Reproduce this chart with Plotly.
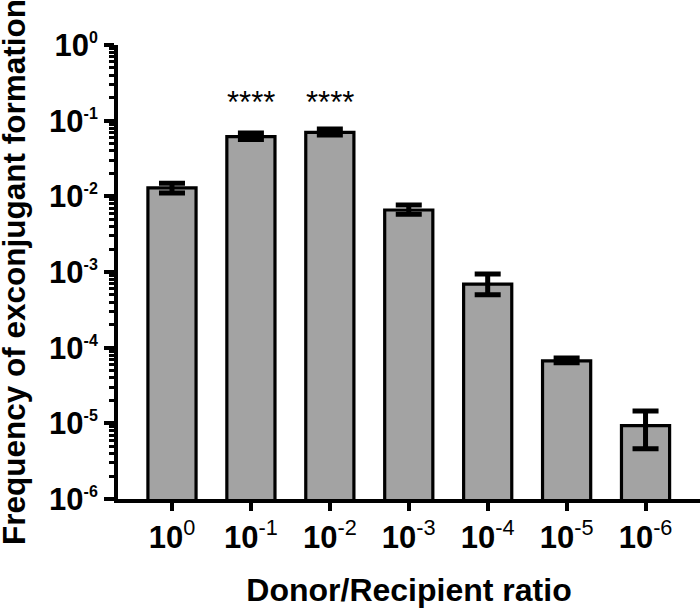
import plotly.graph_objects as go

# ---- data ----
ratio_exponents = [0, -1, -2, -3, -4, -5, -6]
ratio_labels = ["10<sup>0</sup>", "10<sup>-1</sup>", "10<sup>-2</sup>", "10<sup>-3</sup>",
                "10<sup>-4</sup>", "10<sup>-5</sup>", "10<sup>-6</sup>"]
freq_mean = [0.0129, 0.0615, 0.0700, 0.0066, 6.9e-4, 6.7e-5, 9.3e-6]
err_plus = [0.0020, 0.0073, 0.0076, 0.0011, 2.5e-4, 6e-6, 5.3e-6]
err_minus = [0.0018, 0.0050, 0.0055, 0.0008, 1.9e-4, 4e-6, 4.7e-6]
sig_categories = [1, 2]
sig_labels = ["****", "****"]

y_tick_vals = [1e-6, 1e-5, 1e-4, 1e-3, 1e-2, 1e-1, 1e0]
y_tick_sups = ["-6", "-5", "-4", "-3", "-2", "-1", "0"]
y_title = "Frequency of exconjugant formation"
x_title = "Donor/Recipient ratio"

FONT = "Arial, 'Liberation Sans', sans-serif"
cats = list(range(len(ratio_labels)))

fig = go.Figure()
fig.add_trace(go.Bar(
    x=cats, y=freq_mean, width=0.61,
    marker=dict(color="#a3a3a3", line=dict(color="black", width=3.2)),
    error_y=dict(type="data", symmetric=False, array=err_plus, arrayminus=err_minus,
                 color="black", thickness=5, width=13),
    showlegend=False,
))

for c, lab in zip(sig_categories, sig_labels):
    fig.add_annotation(x=c, y=-0.76, xref="x", yref="y", text=lab, showarrow=False,
                       font=dict(family=FONT, size=31, color="black"),
                       xanchor="center", yanchor="middle")

# y-axis title as rotated annotation (so it can sit at the very left edge)
fig.add_annotation(x=-0.1787, y=0.5, xref="paper", yref="paper", text="<b>" + y_title + "</b>",
                   textangle=-90, showarrow=False, xanchor="center", yanchor="middle",
                   font=dict(family=FONT, size=31.5, color="black"))

minor_vals = [k * 10.0 ** e for e in range(-6, 0) for k in range(2, 10)]

fig.update_layout(
    width=700, height=608,
    margin=dict(l=118, r=0, t=45, b=109),
    paper_bgcolor="white", plot_bgcolor="white",
    font=dict(family=FONT, color="black"),
)
fig.update_xaxes(
    automargin=False,
    range=[-0.684, 6.69],
    tickmode="array", tickvals=cats,
    ticktext=["<b>10</b>" + t[2:] for t in ratio_labels],
    tickfont=dict(family=FONT, size=31, color="black"),
    ticks="outside", ticklen=8, tickwidth=4, tickcolor="black",
    showline=True, linecolor="black", linewidth=3.5,
    showgrid=False, zeroline=False,
    title=dict(text="<b>" + x_title + "</b>", font=dict(family=FONT, size=32, color="black"),
               standoff=28),
)
fig.update_yaxes(
    automargin=False,
    type="log", range=[-6, 0],
    tickmode="array", tickvals=y_tick_vals,
    ticktext=["<b>10<sup><span style='font-size:16px'>" + s + "</span></sup></b>"
              for s in y_tick_sups],
    tickfont=dict(family=FONT, size=31, color="black"),
    ticks="outside", ticklen=10, tickwidth=4, tickcolor="black",
    minor=dict(tickmode="array", tickvals=minor_vals, ticks="outside", ticklen=5,
               tickwidth=2.5, tickcolor="black", showgrid=False),
    showline=True, linecolor="black", linewidth=4,
    showgrid=False, zeroline=False,
)

fig.write_html("out.html", config={"displayModeBar": False},
               post_script="document.body.style.margin='0';")
